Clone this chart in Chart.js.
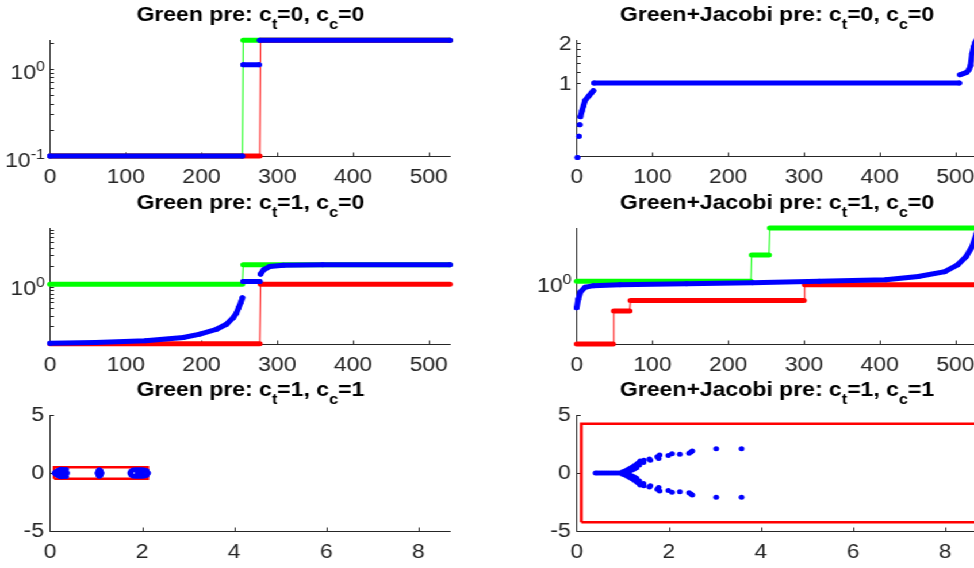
<!DOCTYPE html>
<html>
<head>
<meta charset="utf-8">
<script src="https://cdn.jsdelivr.net/npm/chart.js@4.4.0/dist/chart.umd.min.js"></script>
<style>
html, body { margin: 0; padding: 0; background: #fff; overflow: hidden; width: 974px; height: 568px; }
#fig { position: absolute; left: 0; top: 0; width: 847px; height: 568px; transform: scaleX(1.15); transform-origin: 0 0; }
.ax { position: absolute; }
</style>
</head>
<body>
<div id="fig"></div>
<script>
// ---- data (index, value) ----
const IDX_MAX = 529;
const RE_MAX = 8.7;

// Green pre: c_t=0, c_c=0
const g00Green = [[0, 0.1], [254, 0.1], [255, 2.12], [528, 2.12]];
const g00Red = [[0, 0.1], [277, 0.1], [278, 2.12], [528, 2.12]];
const g00Blue = [
  [[0, 0.1], [254, 0.1]],
  [[255, 1.11], [276, 1.11]],
  [[277, 2.12], [528, 2.12]]
];

// Green+Jacobi pre: c_t=0, c_c=0
const j00Blue = [
  [[1, 0.278]],
  [[3, 0.40]],
  [[4, 0.488]],
  [[5, 0.56], [7, 0.62], [9, 0.677], [11, 0.738], [16, 0.80], [20, 0.85], [22, 0.875]],
  [[23, 1.0], [505, 1.0]],
  [[506, 1.15], [510, 1.17], [515, 1.2], [518, 1.26], [520, 1.35], [522, 1.65], [524, 1.85], [526, 2.0], [528, 2.09]]
];

// Green pre: c_t=1, c_c=0
const g10Green = [[0, 1.0], [254, 1.0], [255, 2.09], [528, 2.09]];
const g10Red = [[0, 0.103], [277, 0.103], [278, 1.0], [528, 1.0]];
const g10Blue = [
  [[0, 0.105], [60, 0.108], [126, 0.115], [176, 0.131], [198, 0.149], [220, 0.179], [233, 0.217],
   [242, 0.279], [246, 0.33], [249, 0.407], [252, 0.5], [254, 0.594]],
  [[255, 1.11], [277, 1.11]],
  [[278, 1.47], [282, 1.73], [290, 1.96], [308, 2.06], [360, 2.09], [528, 2.1]]
];

// Green+Jacobi pre: c_t=1, c_c=0
const j10Green = [[0, 1.0], [230, 1.0], [231, 1.577], [254, 1.577], [255, 2.52], [528, 2.52]];
const j10Red = [[0, 0.336], [48, 0.336], [49, 0.595], [70, 0.595], [71, 0.715], [300, 0.715], [301, 0.94], [528, 0.94]];
const j10Blue = [
  [[0, 0.63], [2, 0.73], [5, 0.83], [11, 0.90], [22, 0.926], [57, 0.94], [145, 0.958], [232, 0.975],
   [320, 1.0], [408, 1.026], [451, 1.085], [486, 1.18], [503, 1.33], [514, 1.53], [522, 1.82], [528, 2.3]]
];

// Green pre: c_t=1, c_c=1 (eigenvalues re, im)
const g11Eig = [
  [0.10, 0], [0.12, 0.06], [0.12, -0.06], [0.14, 0.12], [0.14, -0.12], [0.16, 0.17], [0.16, -0.17],
  [0.18, 0.22], [0.18, -0.22], [0.20, 0], [0.20, 0.26], [0.20, -0.26], [0.22, 0.3], [0.22, -0.3],
  [0.25, 0.32], [0.25, -0.32], [0.25, 0.1], [0.25, -0.1], [0.28, 0.3], [0.28, -0.3], [0.30, 0],
  [0.30, 0.2], [0.30, -0.2], [0.33, 0.25], [0.33, -0.25], [0.35, 0.3], [0.35, -0.3], [0.37, 0],
  [1.03, 0], [1.05, 0.2], [1.05, -0.2], [1.07, 0.28], [1.07, -0.28], [1.10, 0.2], [1.10, -0.2], [1.12, 0],
  [1.74, 0], [1.76, 0.15], [1.76, -0.15], [1.80, 0.25], [1.80, -0.25], [1.85, 0.28], [1.85, -0.28],
  [1.90, 0.28], [1.90, -0.28], [1.90, 0], [1.95, 0.28], [1.95, -0.28], [2.00, 0.28], [2.00, -0.28],
  [2.00, 0], [2.05, 0.25], [2.05, -0.25], [2.10, 0.2], [2.10, -0.2], [2.13, 0]
];
const g11Box = [[0.09, -0.5], [2.12, -0.5], [2.12, 0.5], [0.09, 0.5], [0.09, -0.5]];

// Green+Jacobi pre: c_t=1, c_c=1
const j11Eig = [
  [0.41, 0], [0.45, 0], [0.5, 0], [0.55, 0], [0.6, 0], [0.65, 0], [0.7, 0], [0.75, 0], [0.8, 0],
  [0.85, 0], [0.9, 0], [0.95, 0], [1.0, 0.1], [1.0, -0.1], [1.05, 0.18], [1.05, -0.18],
  [1.1, 0.28], [1.1, -0.28], [1.1, 0.1], [1.1, -0.1], [1.15, 0.38], [1.15, -0.38], [1.15, 0.18], [1.15, -0.18],
  [1.2, 0.5], [1.2, -0.5], [1.2, 0.25], [1.2, -0.25], [1.25, 0.62], [1.25, -0.62], [1.25, 0.35], [1.25, -0.35],
  [1.3, 0.75], [1.3, -0.75], [1.3, 0.45], [1.3, -0.45], [1.33, 0.85], [1.33, -0.85], [1.36, 0.92], [1.36, -0.92],
  [1.36, 0.7], [1.36, -0.7], [1.38, 1.03], [1.38, -1.03], [1.45, 0.91], [1.45, -0.91], [1.46, 1.1], [1.46, -1.1],
  [1.58, 1.2], [1.58, -1.2], [1.6, 1.1], [1.6, -1.1], [1.75, 1.4], [1.75, -1.4], [1.78, 1.25], [1.78, -1.25],
  [1.8, 1.55], [1.8, -1.55], [1.99, 1.5], [1.99, -1.5], [2.07, 1.67], [2.07, -1.67], [2.24, 1.61], [2.24, -1.61],
  [2.44, 1.7], [2.44, -1.7], [2.48, 1.8], [2.48, -1.8], [2.51, 1.9], [2.51, -1.9],
  [3.03, 2.08], [3.03, -2.08], [3.58, 2.08], [3.58, -2.08]
];
const j11Box = [[0.1, -4.25], [9.5, -4.25], [9.5, 4.25], [0.1, 4.25], [0.1, -4.25]];

// tick values of the log axes
const g00YLabels = [[0.1, '10', '-1'], [1, '10', '0']];
const g00YMinor = [0.2, 0.3, 0.4, 0.5, 0.6, 0.7, 0.8, 0.9, 2];
const j00YLabels = [[1, '1', ''], [2, '2', '']];
const j00YMinor = [1.2, 1.4, 1.6, 1.8];
const g10YLabels = [[1, '10', '0']];
const g10YMinor = [0.2, 0.3, 0.4, 0.5, 0.6, 0.7, 0.8, 0.9, 2, 3, 4, 5, 6, 7, 8];
const j10YLabels = [[1, '10', '0']];
const j10YMinor = [];

// ---- drawing ----
const FONT = "'Liberation Sans', Arial, Helvetica, sans-serif";
const AXIS = '#262626';
const S = 1.15;             // horizontal stretch of the reference picture
const COL_X = [50, 576.3];  // left edge of each axes box (reference px)
const ROW_Y = [39.5, 228, 414.5];
const AREA_W = 400.7, AREA_H = 116, TOP_PAD = 40, X_AX_H = 30, Y_AX_W = 50;
const WRAP_W = 404;

Chart.defaults.font.family = FONT;
Chart.defaults.color = AXIS;

const pairs = pts => pts.map(([x, y]) => ({ x, y }));
function runs(list) {
  const out = [];
  list.forEach((r, i) => {
    if (i > 0) out.push({ x: r[0][0], y: null });
    r.forEach(([x, y]) => out.push({ x, y }));
  });
  return out;
}

function stepSet(pts, color) {
  return {
    data: pairs(pts), borderColor: color, backgroundColor: color, borderWidth: 5,
    pointRadius: 0, borderCapStyle: 'round', borderJoinStyle: 'round', clip: false,
    segment: { borderWidth: c => (c.p0.parsed.y === c.p1.parsed.y ? 5 : 1) }
  };
}
function dotSet(list, color) {
  return {
    data: runs(list), borderColor: color, backgroundColor: color, borderWidth: 5,
    borderCapStyle: 'round', pointRadius: 2.5, pointBorderWidth: 0, spanGaps: false, clip: false
  };
}
function eigSet(pts) {
  return { data: pairs(pts), showLine: false, pointRadius: 2.5, pointBorderWidth: 0, backgroundColor: '#0000ff', clip: false };
}
function boxSet(pts) {
  return { data: pairs(pts), borderColor: '#ff0000', borderWidth: 2.5, pointRadius: 0, clip: false };
}

function drawTex(ctx, text, cx, y) {
  const parts = [];
  for (let i = 0; i < text.length; i++) {
    const sub = text[i] === '_';
    const ch = sub ? text[++i] : text[i];
    const last = parts[parts.length - 1];
    if (last && !last.sub && !sub) last.t += ch; else parts.push({ t: ch, sub });
  }
  const fBase = `bold 20px ${FONT}`, fSub = `bold 14px ${FONT}`;
  let w = 0;
  parts.forEach(p => { ctx.font = p.sub ? fSub : fBase; p.w = ctx.measureText(p.t).width; w += p.w; });
  let x = cx - w / 2;
  ctx.textAlign = 'left';
  ctx.textBaseline = 'alphabetic';
  ctx.fillStyle = '#000';
  parts.forEach(p => { ctx.font = p.sub ? fSub : fBase; ctx.fillText(p.t, x, p.sub ? y + 8 : y); x += p.w; });
}

function matlabAxes(title, yLabels, yMinor) {
  return {
    id: 'matlabAxes',
    beforeDatasetsDraw(chart) {
      const { ctx, chartArea: a } = chart;
      const xs = chart.scales.x, ys = chart.scales.y;
      ctx.save();
      ctx.strokeStyle = AXIS;
      ctx.lineWidth = 1;
      const L = Math.round(a.left) + 0.5, B = Math.round(a.bottom) + 0.5;
      ctx.beginPath();
      ctx.moveTo(L, a.top); ctx.lineTo(L, B); ctx.lineTo(a.right, B);
      xs.ticks.forEach(t => {
        const p = Math.round(xs.getPixelForValue(t.value)) + 0.5;
        ctx.moveTo(p, B); ctx.lineTo(p, B - 4);
      });
      const yt = yLabels ? yMinor.concat(yLabels.map(l => l[0])) : ys.ticks.map(t => t.value);
      yt.forEach(v => {
        const p = Math.round(ys.getPixelForValue(v)) + 0.5;
        ctx.moveTo(L, p); ctx.lineTo(L + 4 / S, p);
      });
      ctx.stroke();

      if (yLabels) {
        ctx.fillStyle = AXIS;
        ctx.textAlign = 'left';
        ctx.textBaseline = 'alphabetic';
        yLabels.forEach(([v, base, sup]) => {
          const p = ys.getPixelForValue(v);
          ctx.font = `20px ${FONT}`;
          const bw = ctx.measureText(base).width;
          let sw = 0;
          if (sup) { ctx.font = `14px ${FONT}`; sw = ctx.measureText(sup).width; }
          const right = a.left - 5 / S;
          const by = sup ? p + 10.5 : p + 7;
          ctx.font = `20px ${FONT}`;
          ctx.fillText(base, right - sw - bw, by);
          if (sup) { ctx.font = `14px ${FONT}`; ctx.fillText(sup, right - sw, by - 8); }
        });
      }
      drawTex(ctx, title, (a.left + a.right) / 2, a.top - 19);
      ctx.restore();
    }
  };
}

function makeChart(col, row, title, yScale, datasets, xMax, xStep, yLabels, yMinor) {
  const wrap = document.createElement('div');
  wrap.className = 'ax';
  wrap.style.left = ((COL_X[col] - Y_AX_W) / S) + 'px';
  wrap.style.top = (ROW_Y[row] - TOP_PAD) + 'px';
  wrap.style.width = WRAP_W + 'px';
  wrap.style.height = (TOP_PAD + AREA_H + X_AX_H) + 'px';
  const cv = document.createElement('canvas');
  wrap.appendChild(cv);
  document.getElementById('fig').appendChild(wrap);

  const yW = Y_AX_W / S;
  new Chart(cv, {
    type: 'line',
    data: { datasets },
    options: {
      responsive: true,
      maintainAspectRatio: false,
      animation: false,
      events: [],
      layout: { padding: { left: 0, top: TOP_PAD, bottom: 0, right: WRAP_W - yW - AREA_W / S } },
      plugins: { legend: { display: false }, title: { display: false }, tooltip: { enabled: false } },
      scales: {
        x: {
          type: 'linear', min: 0, max: xMax,
          grid: { display: false, drawTicks: false }, border: { display: false },
          ticks: { stepSize: xStep, includeBounds: false, padding: 9, maxRotation: 0, color: AXIS, font: { size: 20 } },
          afterFit: s => { s.width; s.height = X_AX_H; }
        },
        y: Object.assign({
          grid: { display: false, drawTicks: false }, border: { display: false },
          afterFit: s => { s.width = yW; }
        }, yScale)
      }
    },
    plugins: [matlabAxes(title, yLabels, yMinor)]
  });
}

// log axes keep exactly the limits given (no rounding to ticks)
const logY = (min, max) => ({
  type: 'logarithmic', min, max, bounds: 'data', ticks: { display: false },
  afterBuildTicks: s => { s.min = min; s.max = max; }
});
const linY = { type: 'linear', min: -5, max: 5, ticks: { stepSize: 5, padding: 6 / S, color: AXIS, font: { size: 20 } } };

makeChart(0, 0, 'Green pre: c_t=0, c_c=0', logY(0.1, 2.14),
  [dotSet(g00Blue, '#0000ff'), stepSet(g00Red, '#ff0000'), stepSet(g00Green, '#00ff00')],
  IDX_MAX, 100, g00YLabels, g00YMinor);
makeChart(1, 0, 'Green+Jacobi pre: c_t=0, c_c=0', logY(0.285, 2.09),
  [dotSet(j00Blue, '#0000ff')],
  IDX_MAX, 100, j00YLabels, j00YMinor);
makeChart(0, 1, 'Green pre: c_t=1, c_c=0', logY(0.102, 8.53),
  [dotSet(g10Blue, '#0000ff'), stepSet(g10Red, '#ff0000'), stepSet(g10Green, '#00ff00')],
  IDX_MAX, 100, g10YLabels, g10YMinor);
makeChart(1, 1, 'Green+Jacobi pre: c_t=1, c_c=0', logY(0.336, 2.52),
  [dotSet(j10Blue, '#0000ff'), stepSet(j10Red, '#ff0000'), stepSet(j10Green, '#00ff00')],
  IDX_MAX, 100, j10YLabels, j10YMinor);
makeChart(0, 2, 'Green pre: c_t=1, c_c=1', linY,
  [eigSet(g11Eig), boxSet(g11Box)],
  RE_MAX, 2, null, null);
makeChart(1, 2, 'Green+Jacobi pre: c_t=1, c_c=1', linY,
  [eigSet(j11Eig), boxSet(j11Box)],
  RE_MAX, 2, null, null);
</script>
</body>
</html>
